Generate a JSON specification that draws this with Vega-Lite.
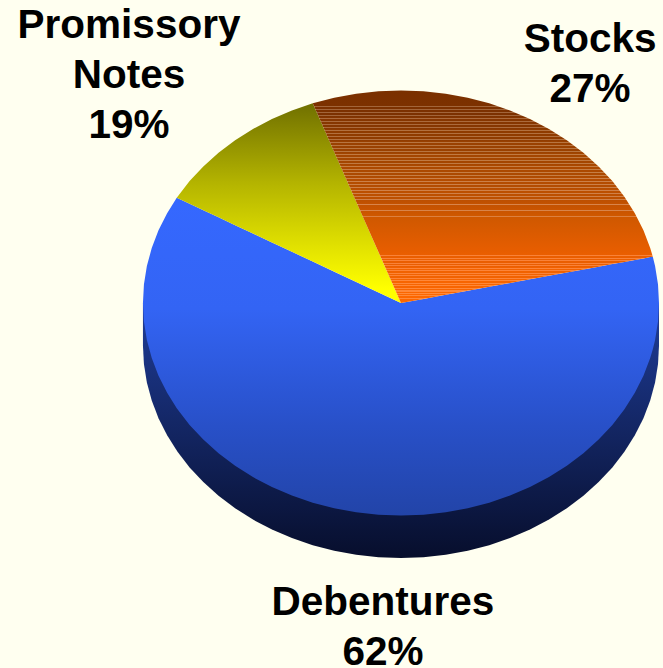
{"$schema":"https://vega.github.io/schema/vega-lite/v6.json","width":663,"height":668,"padding":0,"autosize":{"type":"none"},"background":"#fffff0","config":{"view":{"stroke":null}},
"datasets":{
"side":[{"x":-1,"top":0,"low":-0.2},{"x":-0.9962,"top":0,"low":-0.2872},{"x":-0.9848,"top":0,"low":-0.3736},{"x":-0.9659,"top":0,"low":-0.4588},{"x":-0.9397,"top":0,"low":-0.542},{"x":-0.9063,"top":0,"low":-0.6226},{"x":-0.866,"top":0,"low":-0.7},{"x":-0.8192,"top":0,"low":-0.7736},{"x":-0.766,"top":0,"low":-0.8428},{"x":-0.7071,"top":0,"low":-0.9071},{"x":-0.6428,"top":0,"low":-0.966},{"x":-0.5736,"top":0,"low":-1.0192},{"x":-0.5,"top":0,"low":-1.066},{"x":-0.4226,"top":0,"low":-1.1063},{"x":-0.342,"top":0,"low":-1.1397},{"x":-0.2588,"top":0,"low":-1.1659},{"x":-0.1736,"top":0,"low":-1.1848},{"x":-0.0872,"top":0,"low":-1.1962},{"x":0,"top":0,"low":-1.2},{"x":0.0872,"top":0,"low":-1.1962},{"x":0.1736,"top":0,"low":-1.1848},{"x":0.2588,"top":0,"low":-1.1659},{"x":0.342,"top":0,"low":-1.1397},{"x":0.4226,"top":0,"low":-1.1063},{"x":0.5,"top":0,"low":-1.066},{"x":0.5736,"top":0,"low":-1.0192},{"x":0.6428,"top":0,"low":-0.966},{"x":0.7071,"top":0,"low":-0.9071},{"x":0.766,"top":0,"low":-0.8428},{"x":0.8192,"top":0,"low":-0.7736},{"x":0.866,"top":0,"low":-0.7},{"x":0.9063,"top":0,"low":-0.6226},{"x":0.9397,"top":0,"low":-0.542},{"x":0.9659,"top":0,"low":-0.4588},{"x":0.9848,"top":0,"low":-0.3736},{"x":0.9962,"top":0,"low":-0.2872},{"x":1,"top":0,"low":-0.2}],
"debentures":[{"x":-1,"top":0,"low":0},{"x":-0.9962,"top":0.0872,"low":-0.0872},{"x":-0.9848,"top":0.1736,"low":-0.1736},{"x":-0.9659,"top":0.2588,"low":-0.2588},{"x":-0.9397,"top":0.342,"low":-0.342},{"x":-0.9063,"top":0.4226,"low":-0.4226},{"x":-0.869,"top":0.495,"low":-0.495},{"x":-0.8192,"top":0.467,"low":-0.5736},{"x":-0.766,"top":0.436,"low":-0.6428},{"x":-0.7071,"top":0.403,"low":-0.7071},{"x":-0.6428,"top":0.366,"low":-0.766},{"x":-0.5736,"top":0.327,"low":-0.8192},{"x":-0.5,"top":0.285,"low":-0.866},{"x":-0.4226,"top":0.241,"low":-0.9063},{"x":-0.342,"top":0.195,"low":-0.9397},{"x":-0.2588,"top":0.147,"low":-0.9659},{"x":-0.1736,"top":0.099,"low":-0.9848},{"x":-0.0872,"top":0.05,"low":-0.9962},{"x":0,"top":0,"low":-1},{"x":0.0872,"top":0.019,"low":-0.9962},{"x":0.1736,"top":0.039,"low":-0.9848},{"x":0.2588,"top":0.058,"low":-0.9659},{"x":0.342,"top":0.076,"low":-0.9397},{"x":0.4226,"top":0.094,"low":-0.9063},{"x":0.5,"top":0.112,"low":-0.866},{"x":0.5736,"top":0.128,"low":-0.8192},{"x":0.6428,"top":0.144,"low":-0.766},{"x":0.7071,"top":0.158,"low":-0.7071},{"x":0.766,"top":0.171,"low":-0.6428},{"x":0.8192,"top":0.183,"low":-0.5736},{"x":0.866,"top":0.193,"low":-0.5},{"x":0.9063,"top":0.202,"low":-0.4226},{"x":0.9397,"top":0.21,"low":-0.342},{"x":0.9659,"top":0.216,"low":-0.2588},{"x":0.976,"top":0.218,"low":-0.218},{"x":0.9848,"top":0.1736,"low":-0.1736},{"x":0.9962,"top":0.0872,"low":-0.0872},{"x":1,"top":0,"low":0}],
"notes":[{"x":-0.869,"top":0.495,"low":0.495},{"x":-0.8192,"top":0.5736,"low":0.467},{"x":-0.766,"top":0.6428,"low":0.436},{"x":-0.7071,"top":0.7071,"low":0.403},{"x":-0.6428,"top":0.766,"low":0.366},{"x":-0.5736,"top":0.8192,"low":0.327},{"x":-0.5,"top":0.866,"low":0.285},{"x":-0.4226,"top":0.9063,"low":0.241},{"x":-0.342,"top":0.9397,"low":0.195},{"x":0,"top":0,"low":0}],
"stocks":[{"x":-0.342,"top":0.9397,"low":0.9397},{"x":-0.2588,"top":0.9659,"low":0.711},{"x":-0.1736,"top":0.9848,"low":0.477},{"x":-0.0872,"top":0.9962,"low":0.24},{"x":0,"top":1,"low":0},{"x":0.0872,"top":0.9962,"low":0.019},{"x":0.1736,"top":0.9848,"low":0.039},{"x":0.2588,"top":0.9659,"low":0.058},{"x":0.342,"top":0.9397,"low":0.076},{"x":0.4226,"top":0.9063,"low":0.094},{"x":0.5,"top":0.866,"low":0.112},{"x":0.5736,"top":0.8192,"low":0.128},{"x":0.6428,"top":0.766,"low":0.144},{"x":0.7071,"top":0.7071,"low":0.158},{"x":0.766,"top":0.6428,"low":0.171},{"x":0.8192,"top":0.5736,"low":0.183},{"x":0.866,"top":0.5,"low":0.193},{"x":0.9063,"top":0.4226,"low":0.202},{"x":0.9397,"top":0.342,"low":0.21},{"x":0.9659,"top":0.2588,"low":0.216},{"x":0.976,"top":0.218,"low":0.218}],
"labels":[{"label":"Promissory\nNotes\n19%","x":-1.054,"y":1.247},{"label":"Stocks\n27%","x":0.733,"y":1.181},{"label":"Debentures\n62%","x":-0.07,"y":-1.468}]
},
"encoding":{"x":{"field":"x","type":"quantitative","axis":null,"scale":{"domain":[-1.554,1.0155],"nice":false,"zero":false}},"y":{"field":"top","type":"quantitative","axis":null,"stack":null,"scale":{"domain":[-1.7176,1.4259],"nice":false,"zero":false}},"y2":{"field":"low"}},
"layer":[
{"data":{"name":"side"},"mark":{"type":"area","interpolate":"linear","fill":{"gradient":"linear","x1":0,"y1":0,"x2":0,"y2":1,"stops":[{"offset":0,"color":"#1f3d99"},{"offset":1,"color":"#070e2c"}]}}},
{"data":{"name":"debentures"},"mark":{"type":"area","interpolate":"linear","fill":{"gradient":"linear","x1":0,"y1":0,"x2":0,"y2":1,"stops":[{"offset":0,"color":"#3568ff"},{"offset":0.35,"color":"#3364f4"},{"offset":0.72,"color":"#2850c8"},{"offset":1,"color":"#2244a8"}]}}},
{"data":{"name":"notes"},"mark":{"type":"area","interpolate":"linear","fill":{"gradient":"linear","x1":0,"y1":0,"x2":0,"y2":1,"stops":[{"offset":0,"color":"#707000"},{"offset":0.4,"color":"#b4b400"},{"offset":0.75,"color":"#e6e600"},{"offset":0.93,"color":"#ffff00"},{"offset":1,"color":"#ffff00"}]}}},
{"data":{"name":"stocks"},"mark":{"type":"area","interpolate":"linear","fill":{"gradient":"linear","x1":0,"y1":0,"x2":0,"y2":1,"stops":[
{"offset":0,"color":"#7a3000"},
{"offset":0.073,"color":"#7c3100"},{"offset":0.073,"color":"#a2653a"},{"offset":0.078,"color":"#a2653a"},{"offset":0.078,"color":"#7c3100"},
{"offset":0.087,"color":"#7c3100"},{"offset":0.087,"color":"#a2653a"},{"offset":0.092,"color":"#a2653a"},{"offset":0.092,"color":"#7c3100"},
{"offset":0.101,"color":"#7c3100"},{"offset":0.101,"color":"#a2653a"},{"offset":0.106,"color":"#a2653a"},{"offset":0.106,"color":"#7c3100"},
{"offset":0.115,"color":"#7c3100"},{"offset":0.115,"color":"#a2653a"},{"offset":0.12,"color":"#a2653a"},{"offset":0.12,"color":"#7c3100"},
{"offset":0.129,"color":"#863600"},{"offset":0.129,"color":"#ab6a3c"},{"offset":0.134,"color":"#ab6a3c"},{"offset":0.134,"color":"#863600"},
{"offset":0.143,"color":"#863600"},{"offset":0.143,"color":"#ab6a3c"},{"offset":0.148,"color":"#ab6a3c"},{"offset":0.148,"color":"#863600"},
{"offset":0.157,"color":"#863600"},{"offset":0.157,"color":"#ab6a3c"},{"offset":0.162,"color":"#ab6a3c"},{"offset":0.162,"color":"#863600"},
{"offset":0.172,"color":"#863600"},{"offset":0.172,"color":"#ab6a3c"},{"offset":0.177,"color":"#ab6a3c"},{"offset":0.177,"color":"#863600"},
{"offset":0.186,"color":"#8f3b00"},{"offset":0.186,"color":"#b2703f"},{"offset":0.191,"color":"#b2703f"},{"offset":0.191,"color":"#8f3b00"},
{"offset":0.2,"color":"#8f3b00"},{"offset":0.2,"color":"#b2703f"},{"offset":0.205,"color":"#b2703f"},{"offset":0.205,"color":"#8f3b00"},
{"offset":0.214,"color":"#8f3b00"},{"offset":0.214,"color":"#b2703f"},{"offset":0.219,"color":"#b2703f"},{"offset":0.219,"color":"#8f3b00"},
{"offset":0.228,"color":"#8f3b00"},{"offset":0.228,"color":"#b2703f"},{"offset":0.233,"color":"#b2703f"},{"offset":0.233,"color":"#8f3b00"},
{"offset":0.242,"color":"#9a4100"},{"offset":0.242,"color":"#b87540"},{"offset":0.247,"color":"#b87540"},{"offset":0.247,"color":"#9a4100"},
{"offset":0.256,"color":"#9a4100"},{"offset":0.256,"color":"#b87540"},{"offset":0.261,"color":"#b87540"},{"offset":0.261,"color":"#9a4100"},
{"offset":0.27,"color":"#9a4100"},{"offset":0.27,"color":"#b87540"},{"offset":0.275,"color":"#b87540"},{"offset":0.275,"color":"#9a4100"},
{"offset":0.285,"color":"#9a4100"},{"offset":0.285,"color":"#b87540"},{"offset":0.29,"color":"#b87540"},{"offset":0.29,"color":"#9a4100"},
{"offset":0.299,"color":"#a44600"},{"offset":0.299,"color":"#c07a42"},{"offset":0.304,"color":"#c07a42"},{"offset":0.304,"color":"#a44600"},
{"offset":0.313,"color":"#a44600"},{"offset":0.313,"color":"#c07a42"},{"offset":0.318,"color":"#c07a42"},{"offset":0.318,"color":"#a44600"},
{"offset":0.327,"color":"#a44600"},{"offset":0.327,"color":"#c07a42"},{"offset":0.332,"color":"#c07a42"},{"offset":0.332,"color":"#a44600"},
{"offset":0.341,"color":"#a44600"},{"offset":0.341,"color":"#c07a42"},{"offset":0.346,"color":"#c07a42"},{"offset":0.346,"color":"#a44600"},
{"offset":0.355,"color":"#ac4900"},{"offset":0.355,"color":"#c67e44"},{"offset":0.36,"color":"#c67e44"},{"offset":0.36,"color":"#ac4900"},
{"offset":0.369,"color":"#ac4900"},{"offset":0.369,"color":"#c67e44"},{"offset":0.374,"color":"#c67e44"},{"offset":0.374,"color":"#ac4900"},
{"offset":0.383,"color":"#ac4900"},{"offset":0.383,"color":"#c67e44"},{"offset":0.388,"color":"#c67e44"},{"offset":0.388,"color":"#ac4900"},
{"offset":0.398,"color":"#ac4900"},{"offset":0.398,"color":"#c67e44"},{"offset":0.403,"color":"#c67e44"},{"offset":0.403,"color":"#ac4900"},
{"offset":0.412,"color":"#b44c00"},{"offset":0.412,"color":"#cc8048"},{"offset":0.417,"color":"#cc8048"},{"offset":0.417,"color":"#b44c00"},
{"offset":0.426,"color":"#b44c00"},{"offset":0.426,"color":"#cc8048"},{"offset":0.431,"color":"#cc8048"},{"offset":0.431,"color":"#b44c00"},
{"offset":0.44,"color":"#b44c00"},{"offset":0.44,"color":"#cc8048"},{"offset":0.445,"color":"#cc8048"},{"offset":0.445,"color":"#b44c00"},
{"offset":0.454,"color":"#b44c00"},{"offset":0.454,"color":"#cc8048"},{"offset":0.459,"color":"#cc8048"},{"offset":0.459,"color":"#b44c00"},
{"offset":0.468,"color":"#bc4f00"},{"offset":0.468,"color":"#d08048"},{"offset":0.473,"color":"#d08048"},{"offset":0.473,"color":"#bc4f00"},
{"offset":0.482,"color":"#bc4f00"},{"offset":0.482,"color":"#d08048"},{"offset":0.487,"color":"#d08048"},{"offset":0.487,"color":"#bc4f00"},
{"offset":0.496,"color":"#bc4f00"},{"offset":0.496,"color":"#d08048"},{"offset":0.501,"color":"#d08048"},{"offset":0.501,"color":"#bc4f00"},
{"offset":0.51,"color":"#bc4f00"},{"offset":0.51,"color":"#d08048"},{"offset":0.515,"color":"#d08048"},{"offset":0.515,"color":"#bc4f00"},
{"offset":0.535,"color":"#c45200"},{"offset":0.535,"color":"#d8844a"},{"offset":0.54,"color":"#d8844a"},{"offset":0.54,"color":"#c45200"},
{"offset":0.56,"color":"#c95400"},{"offset":0.56,"color":"#d8844a"},{"offset":0.565,"color":"#d8844a"},{"offset":0.565,"color":"#c95400"},
{"offset":0.59,"color":"#cf5800"},{"offset":0.59,"color":"#dc8040"},{"offset":0.595,"color":"#dc8040"},{"offset":0.595,"color":"#cf5800"},
{"offset":0.775,"color":"#ea5e00"},{"offset":0.775,"color":"#f98238"},{"offset":0.78,"color":"#f98238"},{"offset":0.78,"color":"#ea5e00"},
{"offset":0.787,"color":"#ea5e00"},{"offset":0.787,"color":"#f98238"},{"offset":0.792,"color":"#f98238"},{"offset":0.792,"color":"#ea5e00"},
{"offset":0.799,"color":"#ea5e00"},{"offset":0.799,"color":"#f98238"},{"offset":0.804,"color":"#f98238"},{"offset":0.804,"color":"#ea5e00"},
{"offset":0.81,"color":"#ea5e00"},{"offset":0.81,"color":"#f98238"},{"offset":0.815,"color":"#f98238"},{"offset":0.815,"color":"#ea5e00"},
{"offset":0.822,"color":"#ea5e00"},{"offset":0.822,"color":"#f98238"},{"offset":0.827,"color":"#f98238"},{"offset":0.827,"color":"#ea5e00"},
{"offset":0.834,"color":"#f16200"},{"offset":0.834,"color":"#fc8438"},{"offset":0.839,"color":"#fc8438"},{"offset":0.839,"color":"#f16200"},
{"offset":0.846,"color":"#f16200"},{"offset":0.846,"color":"#fc8438"},{"offset":0.851,"color":"#fc8438"},{"offset":0.851,"color":"#f16200"},
{"offset":0.858,"color":"#f16200"},{"offset":0.858,"color":"#fc8438"},{"offset":0.863,"color":"#fc8438"},{"offset":0.863,"color":"#f16200"},
{"offset":0.87,"color":"#f16200"},{"offset":0.87,"color":"#fc8438"},{"offset":0.875,"color":"#fc8438"},{"offset":0.875,"color":"#f16200"},
{"offset":0.881,"color":"#f16200"},{"offset":0.881,"color":"#fc8438"},{"offset":0.886,"color":"#fc8438"},{"offset":0.886,"color":"#f16200"},
{"offset":0.893,"color":"#f76500"},{"offset":0.893,"color":"#ff8838"},{"offset":0.898,"color":"#ff8838"},{"offset":0.898,"color":"#f76500"},
{"offset":0.905,"color":"#f76500"},{"offset":0.905,"color":"#ff8838"},{"offset":0.91,"color":"#ff8838"},{"offset":0.91,"color":"#f76500"},
{"offset":0.917,"color":"#f76500"},{"offset":0.917,"color":"#ff8838"},{"offset":0.922,"color":"#ff8838"},{"offset":0.922,"color":"#f76500"},
{"offset":0.929,"color":"#f76500"},{"offset":0.929,"color":"#ff8838"},{"offset":0.934,"color":"#ff8838"},{"offset":0.934,"color":"#f76500"},
{"offset":0.941,"color":"#f76500"},{"offset":0.941,"color":"#ff8838"},{"offset":0.946,"color":"#ff8838"},{"offset":0.946,"color":"#f76500"},
{"offset":0.952,"color":"#fc6700"},{"offset":0.952,"color":"#ff8a3a"},{"offset":0.957,"color":"#ff8a3a"},{"offset":0.957,"color":"#fc6700"},
{"offset":0.964,"color":"#fc6700"},{"offset":0.964,"color":"#ff8a3a"},{"offset":0.969,"color":"#ff8a3a"},{"offset":0.969,"color":"#fc6700"},
{"offset":0.976,"color":"#fc6700"},{"offset":0.976,"color":"#ff8a3a"},{"offset":0.981,"color":"#ff8a3a"},{"offset":0.981,"color":"#fc6700"},
{"offset":1,"color":"#ff6800"}]}}},
{"data":{"name":"labels"},"mark":{"type":"text","font":"Liberation Sans","fontWeight":"bold","fontSize":40.5,"lineHeight":50,"lineBreak":"\n","align":"center","baseline":"alphabetic","color":"#000000"},"encoding":{"text":{"field":"label"},"x":{"field":"x","type":"quantitative"},"y":{"field":"y","type":"quantitative"},"y2":null}}
]}
